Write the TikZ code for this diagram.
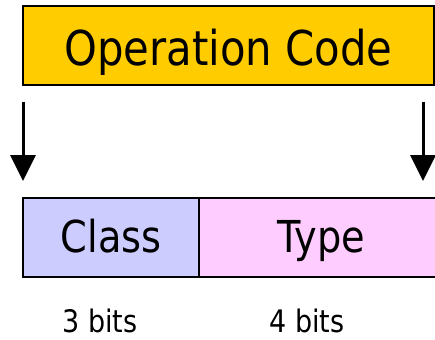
\documentclass[tikz,border=0pt]{standalone}
\usepackage{fontspec}
\setmainfont{DejaVu Sans}[FakeStretch=0.87]
\usetikzlibrary{arrows.meta}
\definecolor{opyellow}{HTML}{FFCC00}
\definecolor{classblue}{HTML}{CCCCFF}
\definecolor{typepink}{HTML}{FFCCFF}
\tikzset{
  fieldbox/.style={draw=black, line width=1.5pt, inner sep=0pt, outer sep=0pt},
  bigtext/.style={font=\fontsize{48}{50}\selectfont, text height=45pt, text depth=4pt},
  midtext/.style={font=\fontsize{44}{46}\selectfont, text height=32pt, text depth=3pt},
  bitstext/.style={font=\fontsize{31}{33}\selectfont, anchor=base, inner sep=0pt, text depth=0pt},
  downarrow/.style={line width=3pt, -{Triangle[length=26pt,width=25pt]}}
}
\begin{document}
\begin{tikzpicture}[x=1pt,y=-1pt]
\useasboundingbox (0,0) rectangle (435,339);
\clip (0,0) rectangle (435,339);
\node[fieldbox, bigtext, fill=opyellow, minimum width=411pt, minimum height=79pt] (op) at (228.5,45.5) {Operation Code};
\node[fieldbox, midtext, fill=classblue, minimum width=176pt, minimum height=79pt] (class) at (111,237.5) {Class};
\node[fieldbox, midtext, fill=typepink, minimum width=244pt, minimum height=79pt] (type) at (321,237.5) {Type};
\coordinate (la) at (23,102);
\coordinate (lb) at (23,181);
\coordinate (ra) at (423,102);
\coordinate (rb) at (423,181);
\draw[downarrow] (la) -- (lb);
\draw[downarrow] (ra) -- (rb);
\node[bitstext] (bits3) at (100,332) {3 bits};
\node[bitstext] (bits4) at (307,332) {4 bits};
\end{tikzpicture}
\end{document}
